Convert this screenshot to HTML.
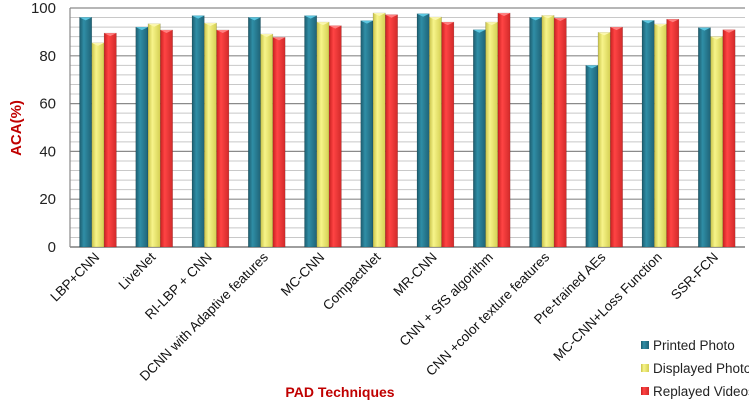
<!DOCTYPE html>
<html><head><meta charset="utf-8"><style>
html,body{margin:0;padding:0;background:#fff;}
svg{display:block;font-family:"Liberation Sans",Arial,sans-serif;}
</style></head><body>
<svg id="chart" width="749" height="402" viewBox="0 0 749 402">
<defs>
<linearGradient id="gb" x1="0" x2="1"><stop offset="0" stop-color="#1d5c6e"/><stop offset="0.35" stop-color="#2f8ea6"/><stop offset="1" stop-color="#1f6377"/></linearGradient>
<linearGradient id="gy" x1="0" x2="1"><stop offset="0" stop-color="#c9c34a"/><stop offset="0.35" stop-color="#f7f48a"/><stop offset="1" stop-color="#d4cf52"/></linearGradient>
<linearGradient id="gr" x1="0" x2="1"><stop offset="0" stop-color="#c82020"/><stop offset="0.35" stop-color="#ff4444"/><stop offset="1" stop-color="#d22a2a"/></linearGradient>
</defs>
<g id="grid"></g><g id="bars"></g><g id="labels"></g>
<text transform="translate(21,128) rotate(-90)" text-anchor="middle" font-size="15" font-weight="bold" fill="#c00000">ACA(%)</text>
<text x="340" y="397" text-anchor="middle" font-size="14" font-weight="bold" fill="#c00000">PAD Techniques</text>
<g font-size="13.5" fill="#222">
<rect x="641" y="341" width="8" height="8" fill="url(#gb)"/>
<text x="653" y="350">Printed Photo</text>
<rect x="641" y="364" width="8" height="8" fill="url(#gy)"/>
<text x="653" y="373">Displayed Photo</text>
<rect x="641" y="387" width="8" height="8" fill="url(#gr)"/>
<text x="653" y="396">Replayed Videos</text>
</g>
</svg>
<script>
const categories = ["LBP+CNN","LiveNet","RI-LBP + CNN","DCNN with Adaptive features","MC-CNN","CompactNet","MR-CNN","CNN + SfS algorithm","CNN +color texture features","Pre-trained AEs","MC-CNN+Loss Function","SSR-FCN"];
const printed = [96.1,92,96.8,96.1,96.8,94.7,97.6,90.9,96.1,76,94.8,91.8];
const displayed = [85.4,93.4,93.7,89.1,94.1,97.9,96.2,94.1,96.9,89.8,93.3,88.1];
const replayed = [89.5,90.8,90.8,87.7,92.6,97.2,94.1,97.9,95.8,92,95.3,90.9];
const yTicks = [0,20,40,60,80,100];

const NS="http://www.w3.org/2000/svg";
const x0=70,x1=745,yBase=247,yTop=8;
const catW=(x1-x0)/categories.length;
const yS=v=>yBase-(v/100)*(yBase-yTop);
const xS=i=>x0+i*catW;
function mk(tag,attrs,parent){const e=document.createElementNS(NS,tag);for(const k in attrs)e.setAttribute(k,attrs[k]);parent.appendChild(e);return e;}
const grid=document.getElementById('grid'),bars=document.getElementById('bars'),labels=document.getElementById('labels');
for(let v=0;v<=100;v+=4){
  const major=v%20===0;
  const l=mk('line',{x1:x0,x2:x1,y1:yS(v),y2:yS(v),stroke:major?'#8a8a8a':'#c8c8c8','stroke-width':major?1.2:1},grid);
  
  
}
yTicks.forEach(v=>{
  const t=mk('text',{x:56,y:yS(v)+5,'text-anchor':'end','font-size':15,fill:'#222'},labels);
  t.textContent=v;
  
  
});
const ax=mk('line',{x1:x0,x2:x0,y1:yTop,y2:yBase,stroke:'#888','stroke-width':1.2},grid);


const series=[[printed,'url(#gb)','#5bc6e0','printed'],[displayed,'url(#gy)','#fbf7b0','displayed'],[replayed,'url(#gr)','#ff8080','replayed']];
categories.forEach((c,i)=>{
  series.forEach((s,j)=>{
    const bx=xS(i)+9.5+j*12.3,bw=12.3,by=yS(s[0][i]);
    const r=mk('rect',{x:bx,y:by,width:bw,height:yBase-by,fill:s[1],stroke:'rgba(0,0,0,0.25)','stroke-width':0.5},bars);
    
    
    const cap=mk('polygon',{points:`${bx},${by} ${bx+bw},${by} ${bx+bw/2},${by+3}`,fill:s[2]},bars);
    
    
  });
  const cx=xS(i)+catW/2;
  const t=mk('text',{x:cx+2,y:258,'text-anchor':'end','font-size':13.5,fill:'#111',transform:`rotate(-45 ${cx+2} 258)`},labels);
  t.textContent=c;
  
  
});
const bx=mk('line',{x1:x0,x2:x1,y1:yBase,y2:yBase,stroke:'#888','stroke-width':1.5},grid);


</script>
</body></html>
